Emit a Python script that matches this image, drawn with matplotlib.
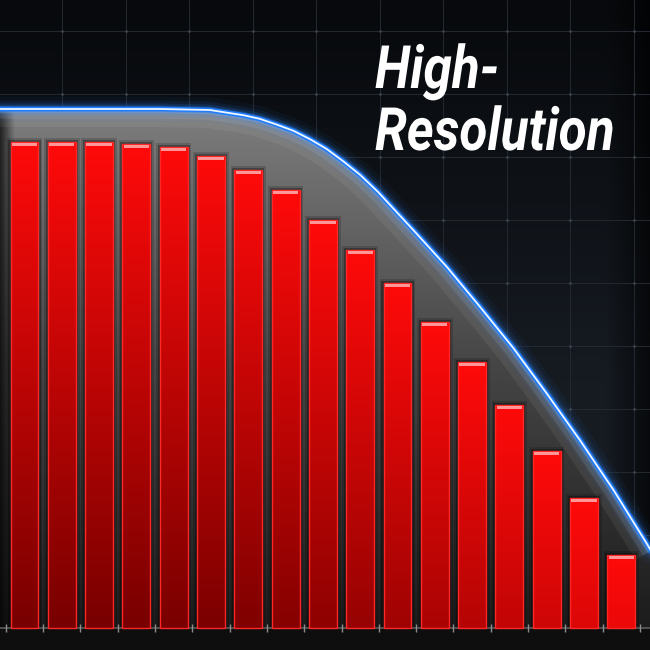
import numpy as np
import matplotlib
matplotlib.use('Agg')
import matplotlib.pyplot as plt
import matplotlib.patheffects as pe
from matplotlib.patches import Polygon
from matplotlib.transforms import Affine2D
from matplotlib.colors import to_rgb

# ---------------- data ----------------
bar_positions = list(range(17))
bar_values = [93.6, 93.6, 93.6, 93.2, 92.6, 91.0, 88.2, 84.4, 78.6,
              72.8, 66.5, 59.0, 51.3, 43.0, 34.1, 25.0, 14.1]
curve_x = [-0.66, 3.63, 4.97, 5.87, 6.31, 6.76, 7.21, 7.65, 8.10, 8.55, 9.00,
           9.48, 10.42, 11.32, 12.21, 13.11, 14.00, 14.89, 15.79, 16.68, 16.82]
curve_y = [100.0, 100.0, 99.8, 98.8, 98.1, 97.0, 95.8, 94.2, 92.3, 89.9, 87.3,
           84.0, 76.7, 69.6, 61.9, 53.9, 45.2, 36.2, 26.6, 16.3, 14.6]
tick_positions = [-0.5, 0.5, 1.5, 2.5, 3.5, 4.5, 5.5, 6.5, 7.5, 8.5, 9.5,
                  10.5, 11.5, 12.5, 13.5, 14.5, 15.5, 16.5]
title_lines = ["High-", "Resolution"]

XMIN, XMAX = -0.657, 16.77
YMIN, YMAX = -4.24, 121.0
W = H = 650

fig = plt.figure(figsize=(6.5, 6.5), dpi=100)
fig.patch.set_facecolor('#0d1016')

# ---------------- background + grid ----------------
axbg = fig.add_axes([0, 0, 1, 1])
axbg.axis('off')
yy, xx = np.mgrid[0:H, 0:W]
top_c = np.array(to_rgb('#07090c'))
mid_c = np.array(to_rgb('#161b22'))
t = np.clip(yy / 380.0, 0, 1)[..., None]
bg = top_c * (1 - t) + mid_c * t
vr = np.clip((xx - 605) / 45.0, 0, 1)[..., None]
bg = bg * (1 - 0.65 * vr)
axbg.imshow(bg, extent=(0, W, H, 0), aspect='auto', interpolation='bilinear')
gx = [62 + 63.5 * k for k in range(10)]
gy = [31 + 63 * k for k in range(10)]
for x in gx:
    axbg.axvline(x, color='#232932', lw=0.7, zorder=2)
for y in gy:
    axbg.axhline(y, color='#232932', lw=0.7, zorder=2)
GX, GY = np.meshgrid(gx, gy)
axbg.scatter(GX.ravel(), GY.ravel(), s=4, color='#3c434c', lw=0, zorder=3)
axbg.set_xlim(0, W)
axbg.set_ylim(H, 0)

# ---------------- main axes ----------------
ax = fig.add_axes([0, 0, 1, 1])
ax.patch.set_alpha(0)

verts = list(zip(curve_x, curve_y)) + [(curve_x[-1], 0), (curve_x[0], 0)]
poly = Polygon(verts, closed=True, facecolor='none', edgecolor='none')
ax.add_patch(poly)

# gray gradient fill under curve
ny, nx = 300, 400
fy = np.linspace(0, 1, ny)[:, None]
fx = np.linspace(0, 1, nx)[None, :]
c_bot = np.array(to_rgb('#1c1c1c'))
c_mid = np.array(to_rgb('#454545'))
c_top = np.array(to_rgb('#7e7e7e'))
f1 = np.clip(fy / 0.5, 0, 1)[..., None]
f2 = np.clip((fy - 0.5) / 0.5, 0, 1)[..., None]
fill = c_bot * (1 - f1) + c_mid * f1
fill = fill * (1 - f2) + c_top * f2
fill = np.broadcast_to(fill, (ny, nx, 3)).copy()
left = np.clip(fx * (XMAX - XMIN) * 37.3 / 14.0, 0, 1)[0]
fill = fill * (0.3 + 0.7 * left)[None, :, None]
im = ax.imshow(fill, extent=(XMIN, XMAX, 0, 100.5), origin='lower',
               aspect='auto', interpolation='bilinear', zorder=1)
im.set_clip_path(poly)

# inner glow along curve
for lw_, a_ in [(26, 0.08), (14, 0.12), (6, 0.24)]:
    ln, = ax.plot(curve_x, curve_y, color='#dadada', lw=lw_, alpha=a_,
                  zorder=1.2, solid_capstyle='butt', solid_joinstyle='round')
    ln.set_clip_path(poly)

# baseline dark region
ax.axhspan(YMIN, 0, color='#0e0e0f', zorder=0.5, lw=0)

# bar shadows
ax.bar(bar_positions, [v + 0.8 for v in bar_values], width=0.95,
       color='black', alpha=0.16, lw=0, zorder=2)
ax.bar(bar_positions, [v + 0.4 for v in bar_values], width=0.86,
       color='black', alpha=0.30, lw=0, zorder=2.1)

# bars with vertical gradient
bars = ax.bar(bar_positions, bar_values, width=0.75, color='#c00000',
              lw=0, zorder=3)
c_hi = np.array(to_rgb('#ff0a0a'))
c_lo = np.array(to_rgb('#780000'))
vmax = max(bar_values)
for b in bars:
    x0 = b.get_x()
    bw = b.get_width()
    h = b.get_height()
    yv = np.linspace(0, h, 120)[:, None]
    d = np.clip((h - yv) / vmax, 0, 1)[..., None]
    g = c_hi * (1 - d) + c_lo * d
    g = np.repeat(g, 3, axis=1)
    gi = ax.imshow(g, extent=(x0, x0 + bw, 0, h), origin='lower',
                   aspect='auto', interpolation='bilinear', zorder=3.2)
    gi.set_clip_path(b)
ax.bar(bar_positions, bar_values, width=0.75, facecolor='none',
       edgecolor='#ff2626', lw=1.0, zorder=3.4)
ax.bar(bar_positions, [0.55] * len(bar_values),
       bottom=[v - 0.75 for v in bar_values], width=0.68,
       color='#ffb0b0', lw=0, alpha=0.85, zorder=3.5)

# glowing blue curve
for lw_, a_ in [(18, 0.05), (12, 0.09), (8, 0.16), (5, 0.32)]:
    ax.plot(curve_x, curve_y, color='#2a86ff', lw=lw_, alpha=a_, zorder=5,
            solid_capstyle='round', solid_joinstyle='round')
ax.plot(curve_x, curve_y, color='#1f7cff', lw=3.4, zorder=5.2,
        solid_joinstyle='round')
ax.plot(curve_x, curve_y, color='#eef7ff', lw=1.3, zorder=5.3,
        solid_joinstyle='round')

# axis styling
ax.set_xlim(XMIN, XMAX)
ax.set_ylim(YMIN, YMAX)
ax.set_xticks(tick_positions)
ax.set_yticks([])
ax.tick_params(axis='x', direction='inout', length=6, width=1,
               color='#8c8c8c', labelbottom=False)
for s in ['top', 'left', 'right']:
    ax.spines[s].set_visible(False)
ax.spines['bottom'].set_position(('data', 0))
ax.spines['bottom'].set_color('#5a5a5a')
ax.spines['bottom'].set_linewidth(1.2)
ax.set_axisbelow(False)


# ---------------- title text (condensed via path effect) ----------------
class HScale(pe.AbstractPathEffect):
    def __init__(self, sx, x0):
        super().__init__()
        self.sx = sx
        self.x0 = x0

    def draw_path(self, renderer, gc, tpath, affine, rgbFace=None):
        aff = affine + Affine2D().translate(-self.x0, 0).scale(self.sx, 1) \
            .translate(self.x0, 0)
        renderer.draw_path(gc, tpath, aff, rgbFace)


TX_PX = 375
font_kw = dict(family=['Roboto', 'DejaVu Sans'], weight='bold', style='italic',
               size=43, color='white', va='baseline', zorder=10)
t1 = fig.text(TX_PX / W, 1 - 88 / H, title_lines[0], ha='left', **font_kw)
t2 = fig.text(0.5, 1 - 150 / H, title_lines[1], ha='center', **font_kw)
renderer = fig.canvas.get_renderer()
wpx = t2.get_window_extent(renderer).width
sx = min(1.0, 240.0 / wpx)
cx = TX_PX + sx * wpx / 2.0
t2.set_x(cx / W)
t1.set_path_effects([HScale(sx, TX_PX)])
t2.set_path_effects([HScale(sx, cx)])

fig.savefig('out.png', dpi=100, facecolor=fig.get_facecolor())
